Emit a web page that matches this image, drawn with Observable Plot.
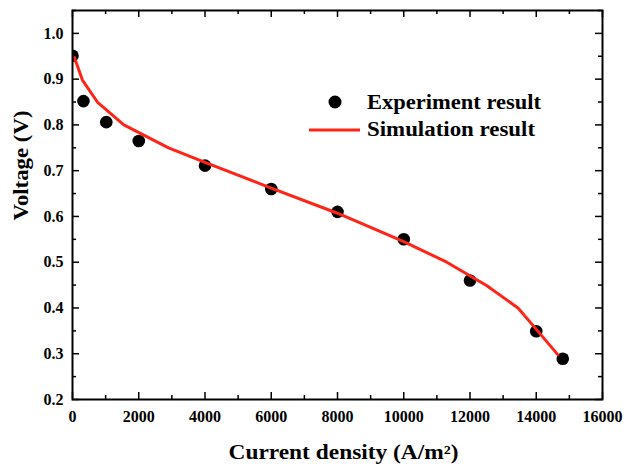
<!DOCTYPE html>
<html>
<head>
<meta charset="utf-8">
<script src="https://cdn.jsdelivr.net/npm/d3@7"></script>
<script src="https://cdn.jsdelivr.net/npm/@observablehq/plot@0.6"></script>
<style>
  html, body { margin: 0; padding: 0; background: #fff; }
  #chart { position: relative; width: 624px; height: 466px; }
  #legend { position: absolute; left: 0; top: 0; pointer-events: none; }
</style>
</head>
<body>
<div id="chart"></div>
<script>
// Experiment data
const expCurrent = [0, 330, 1020, 2000, 4000, 6000, 8000, 10000, 12000, 14000, 14800];
const expVoltage = [0.951, 0.852, 0.806, 0.765, 0.711, 0.660, 0.610, 0.550, 0.460, 0.349, 0.289];
// Simulation data
const simCurrent = [60, 300, 750, 1550, 2900, 4000, 6000, 8000, 10000, 11300, 12500, 13450, 14100, 14650];
const simVoltage = [0.947, 0.898, 0.850, 0.800, 0.750, 0.718, 0.662, 0.607, 0.545, 0.500, 0.449, 0.400, 0.345, 0.298];
// Ticks
const xMajor = [0, 2000, 4000, 6000, 8000, 10000, 12000, 14000, 16000];
const xMinor = [1000, 3000, 5000, 7000, 9000, 11000, 13000, 15000];
const yMajor = [0.2, 0.3, 0.4, 0.5, 0.6, 0.7, 0.8, 0.9, 1.0];
const yMinor = [0.25, 0.35, 0.45, 0.55, 0.65, 0.75, 0.85, 0.95, 1.05];
const legendLabels = ["Experiment result", "Simulation result"];
const xLabel = "Current density (A/m²)";
const yLabel = "Voltage (V)";

const exp = expCurrent.map((x, i) => ({x, y: expVoltage[i]}));
const sim = simCurrent.map((x, i) => ({x, y: simVoltage[i]}));

const W = 624, H = 466;
const mL = 72, mR = 22, mT = 10, mB = 67;
const innerH = H - mT - mB, innerW = W - mL - mR;
const font = "'Liberation Serif', 'Times New Roman', serif";
const red = "#ff2418";

const plot = Plot.plot({
  width: W, height: H,
  marginLeft: mL, marginRight: mR, marginTop: mT, marginBottom: mB,
  style: { fontFamily: font, fontWeight: "bold", background: "#fff" },
  x: { domain: [0, 16000], axis: null },
  y: { domain: [0.2, 1.05], axis: null },
  marks: [
    // inward ticks bottom/top
    Plot.tickX(xMajor, { x: d => d, insetTop: innerH - 7, stroke: "#000", strokeWidth: 1.5 }),
    Plot.tickX(xMajor, { x: d => d, insetBottom: innerH - 7, stroke: "#000", strokeWidth: 1.5 }),
    Plot.tickX(xMinor, { x: d => d, insetTop: innerH - 4, stroke: "#000", strokeWidth: 1.5 }),
    Plot.tickX(xMinor, { x: d => d, insetBottom: innerH - 4, stroke: "#000", strokeWidth: 1.5 }),
    // inward ticks left/right
    Plot.tickY(yMajor, { y: d => d, insetRight: innerW - 7, stroke: "#000", strokeWidth: 1.5 }),
    Plot.tickY(yMajor, { y: d => d, insetLeft: innerW - 7, stroke: "#000", strokeWidth: 1.5 }),
    Plot.tickY(yMinor, { y: d => d, insetRight: innerW - 4, stroke: "#000", strokeWidth: 1.5 }),
    Plot.tickY(yMinor, { y: d => d, insetLeft: innerW - 4, stroke: "#000", strokeWidth: 1.5 }),
    // tick labels
    Plot.text(xMajor, { x: d => d, frameAnchor: "bottom", dy: 17, text: d => String(d),
      fontSize: 16, fontWeight: "bold", fill: "#000", lineAnchor: "middle" }),
    Plot.text(yMajor, { y: d => d, frameAnchor: "left", dx: -9, text: d => d.toFixed(1),
      fontSize: 16, fontWeight: "bold", fill: "#000", textAnchor: "end" }),
    // axis titles
    Plot.text([xLabel], { frameAnchor: "bottom", dx: 6, dy: 53, text: d => d, className: "xtitle",
      fontSize: 20, fontWeight: "bold", fill: "#000", lineAnchor: "middle" }),
    Plot.text([yLabel], { frameAnchor: "left", dx: -50.5, dy: 15.5, rotate: -90, text: d => d, className: "ytitle",
      fontSize: 20, fontWeight: "bold", fill: "#000", lineAnchor: "middle" }),
    // data
    Plot.dot(exp, { x: "x", y: "y", r: 6.3, fill: "#000", stroke: "none", clip: true }),
    Plot.line(sim, { x: "x", y: "y", stroke: red, strokeWidth: 3, clip: true }),
    Plot.frame({ stroke: "#000", strokeWidth: 2 })
  ]
});

// Stretch titles horizontally like the reference's wide serif rendering
function stretch(sel, len) {
  plot.querySelectorAll(sel).forEach(t => {
    t.setAttribute("textLength", len);
    t.setAttribute("lengthAdjust", "spacingAndGlyphs");
  });
}
stretch(".xtitle text", 230);
stretch(".ytitle text", 110);

const chart = document.getElementById("chart");
chart.appendChild(plot);

// Legend overlay
const ns = "http://www.w3.org/2000/svg";
const leg = document.createElementNS(ns, "svg");
leg.setAttribute("id", "legend");
leg.setAttribute("width", W);
leg.setAttribute("height", H);
const c = document.createElementNS(ns, "circle");
c.setAttribute("cx", 335); c.setAttribute("cy", 102); c.setAttribute("r", 6.5); c.setAttribute("fill", "#000");
leg.appendChild(c);
const l = document.createElementNS(ns, "line");
l.setAttribute("x1", 309); l.setAttribute("x2", 360); l.setAttribute("y1", 130); l.setAttribute("y2", 130);
l.setAttribute("stroke", red); l.setAttribute("stroke-width", 3);
leg.appendChild(l);
const legWidths = [174, 168];
const legBaselines = [108.7, 135.5];
legendLabels.forEach((t, i) => {
  const tx = document.createElementNS(ns, "text");
  tx.setAttribute("x", 367);
  tx.setAttribute("y", legBaselines[i]);
  tx.setAttribute("font-family", font);
  tx.setAttribute("font-weight", "bold");
  tx.setAttribute("font-size", 20);
  tx.setAttribute("fill", "#000");
  tx.setAttribute("textLength", legWidths[i]);
  tx.setAttribute("lengthAdjust", "spacingAndGlyphs");
  tx.textContent = t;
  leg.appendChild(tx);
});
chart.appendChild(leg);
</script>
</body>
</html>
